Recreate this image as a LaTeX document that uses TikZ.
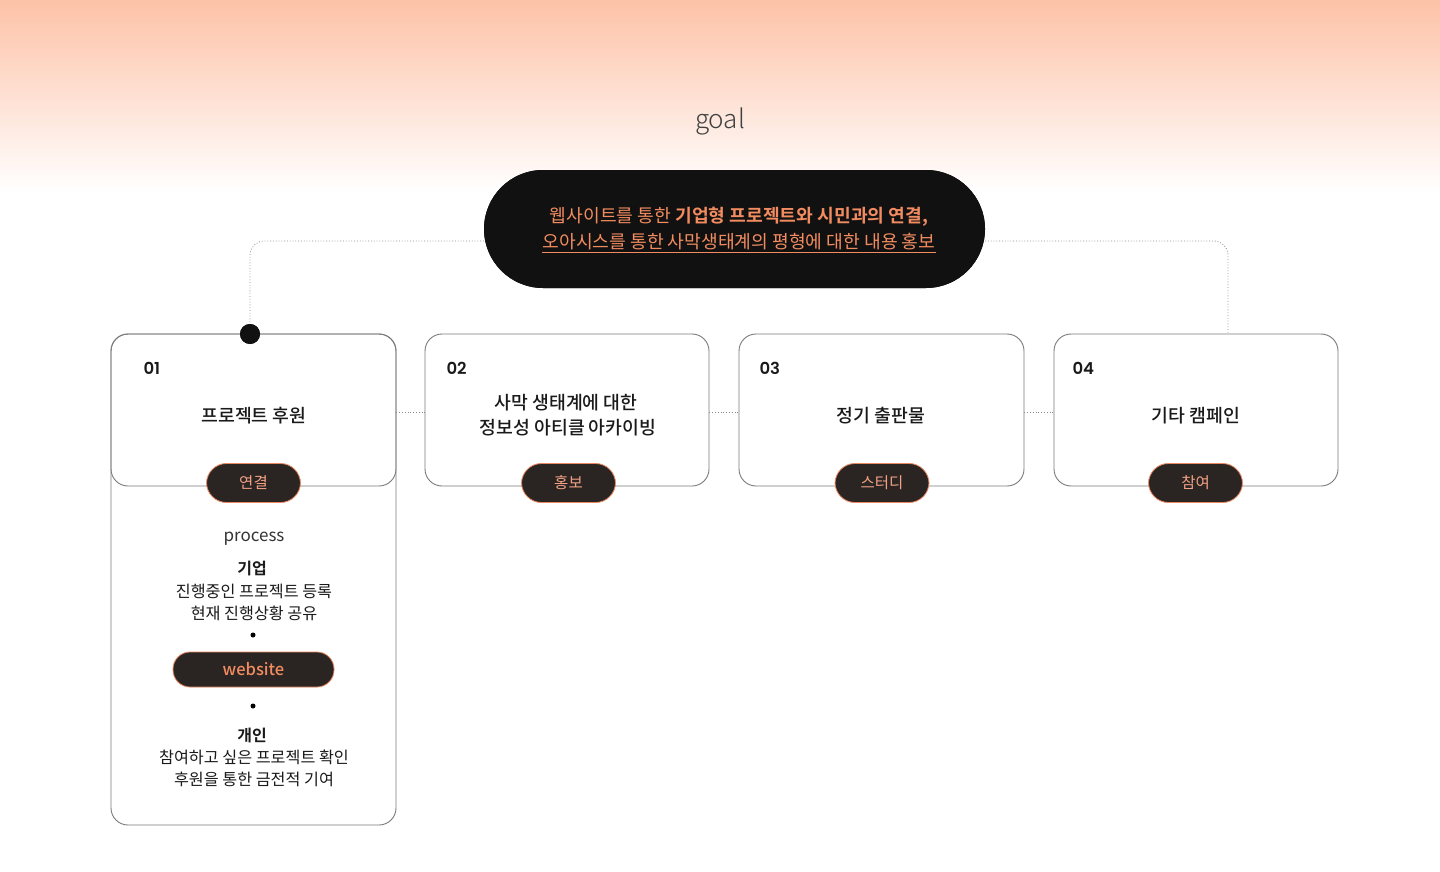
\documentclass[tikz,border=0pt]{standalone}
\usepackage{fontspec}
\setmainfont{Noto Sans CJK KR}[BoldFont={Noto Sans CJK KR Bold}]
\newfontfamily\krmed{Noto Sans CJK KR Medium}
\newfontfamily\krlight{Noto Sans CJK KR Light}
\newfontfamily\pop{Poppins}[BoldFont={Poppins SemiBold}]
\definecolor{peachtop}{HTML}{FDC2A7}
\definecolor{peachmid}{HTML}{F8E4DA}
\definecolor{pillblack}{HTML}{111111}
\definecolor{goalorange}{HTML}{F28C60}
\definecolor{tagfill}{HTML}{2A2523}
\definecolor{tagline}{HTML}{E8875F}
\definecolor{tagtext}{HTML}{F2A184}
\definecolor{boxline}{HTML}{7A7A7A}
\definecolor{conngray}{HTML}{8A8A8A}
\definecolor{txt}{HTML}{1A1A1A}
\newcommand{\fsz}[1]{\fontsize{#1}{#1}\selectfont}
\begin{document}
\begin{tikzpicture}[x=1pt,y=-1pt,
  cardbox/.style={draw=boxline, line width=0.9pt, rounded corners=17pt, minimum width=285pt, minimum height=152pt, inner sep=0pt},
  tag/.style={fill=tagfill, draw=tagline, line width=0.8pt, rounded corners=20pt, minimum width=94pt, minimum height=39pt, inner sep=0pt, text=tagtext, font=\fsz{15.5}},
  conn/.style={draw=conngray, line width=0.8pt, dotted},
  num/.style={anchor=west, text=txt, font=\pop\bfseries\fsz{16.5}},
  title/.style={text=txt, font=\krmed\fsz{18.3}, align=center},
  body/.style={text=txt, font=\fsz{16.2}, align=center},
  bodyb/.style={text=txt, font=\bfseries\fsz{16}},
  smalldot/.style={fill=black, circle, inner sep=0pt, minimum size=5pt}
]
\useasboundingbox (0,0) rectangle (1440,872);
\fill[white] (0,0) rectangle (1440,872);
\shade[top color=peachtop, middle color=peachmid, bottom color=white] (0,0) rectangle (1440,192);

\node[text=black!75, font=\krlight\fsz{26}] (goaltitle) at (720,121) {goal};

% goal pill
\node[fill=pillblack, rounded corners=59pt, minimum width=501pt, minimum height=118pt, inner sep=0pt] (goal) at (734.5,229) {};

% cards
\node[draw=boxline, line width=0.9pt, rounded corners=17pt, minimum width=285pt, minimum height=491pt, inner sep=0pt] (box1ext) at (253.5,579.5) {};
\node[cardbox] (box1) at (253.5,410) {};
\node[cardbox, minimum width=284pt] (box2) at (567,410) {};
\node[cardbox] (box3) at (881.5,410) {};
\node[cardbox, minimum width=284pt] (box4) at (1196,410) {};

% connectors
\coordinate (c4) at (1228,334);
\node[fill=pillblack, circle, inner sep=0pt, minimum size=20pt] (dot1) at (250,334) {};
\draw[conn, rounded corners=14pt] ([yshift=-12pt]goal.west) -| (dot1.north);
\draw[conn, rounded corners=14pt] ([yshift=-12pt]goal.east) -| (c4);
\draw[conn] ([yshift=-2pt]box1.east) -- ([yshift=-2pt]box2.west);
\draw[conn] ([yshift=-2pt]box2.east) -- ([yshift=-2pt]box3.west);
\draw[conn] ([yshift=-2pt]box3.east) -- ([yshift=-2pt]box4.west);
\node[fill=pillblack, circle, inner sep=0pt, minimum size=20pt] at (dot1) {};
\node[fill=pillblack, rounded corners=59pt, minimum width=501pt, minimum height=118pt, inner sep=0pt] at (goal) {};

% goal texts
\node[text=goalorange, font=\fsz{18.2}] (g1) at (739,217) {웹사이트를 통한 \textbf{기업형 프로젝트와 시민과의 연결,}};
\node[text=goalorange, font=\fsz{18.2}, inner sep=0pt] (g2) at (739,242) {오아시스를 통한 사막생태계의 평형에 대한 내용 홍보};
\draw[goalorange, line width=1pt] ([yshift=-2pt]g2.south west) -- ([yshift=-2pt]g2.south east);

% numbers
\node[num] (n1) at (140,368) {01};
\node[num] (n2) at (443,368) {02};
\node[num] (n3) at (756,368) {03};
\node[num] (n4) at (1069,368) {04};

% titles
\node[title] (t1) at (254,416) {프로젝트 후원};
\node[title] (t2a) at (566,403) {사막 생태계에 대한};
\node[title] (t2b) at (568,428) {정보성 아티클 아카이빙};
\node[title] (t3) at (881,416) {정기 출판물};
\node[title] (t4) at (1196,416) {기타 캠페인};

% tags
\node[tag] (tag1) at (253.5,483) {연결};
\node[tag] (tag2) at (568.5,483) {홍보};
\node[tag] (tag3) at (882,483) {스터디};
\node[tag] (tag4) at (1195.5,483) {참여};

% process column
\node[text=black!80, font=\fsz{17}] (proc) at (254,539) {process};
\node[bodyb] (corp) at (252,568) {기업};
\node[body] (corp1) at (254,591) {진행중인 프로젝트 등록};
\node[body] (corp2) at (254,613) {현재 진행상황 공유};
\node[smalldot] (d1) at (253,635) {};
\node[fill=tagfill, draw=tagline, line width=0.8pt, rounded corners=17pt, minimum width=161pt, minimum height=35pt, inner sep=0pt, text=goalorange, font=\krmed\fsz{16.5}] (web) at (253.5,669.5) {website};
\node[smalldot] (d2) at (253,706) {};
\node[bodyb] (indiv) at (252,735) {개인};
\node[body] (ind1) at (254,757) {참여하고 싶은 프로젝트 확인};
\node[body] (ind2) at (254,779) {후원을 통한 금전적 기여};
\end{tikzpicture}
\end{document}
